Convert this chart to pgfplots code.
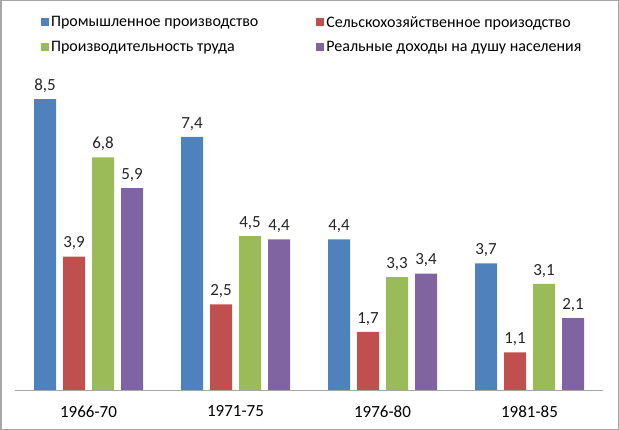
\documentclass[border=0pt]{standalone}
\usepackage{pgfplots}
\pgfplotsset{compat=1.18}
\usepackage{fontspec}
\setmainfont{Carlito}
\definecolor{serA}{HTML}{4F81BD}
\definecolor{serB}{HTML}{C0504D}
\definecolor{serC}{HTML}{9BBB59}
\definecolor{serD}{HTML}{8064A2}
\definecolor{frame}{HTML}{A6A6A6}

\begin{document}
\begin{tikzpicture}
\useasboundingbox (0,0) rectangle (619bp,430bp);
\begin{axis}[
  at={(15bp,40bp)}, anchor=south west,
  scale only axis, width=588bp, height=308bp,
  xmin=-0.5, xmax=3.5, ymin=0, ymax=9,
  ybar=7bp, bar width=22bp,
  axis x line*=bottom, axis y line=none,
  x axis line style={draw=frame,-},
  xtick={0,1,2,3},
  xticklabels={1966-70,1971-75,1976-80,1981-85},
  xtick style={draw=none},
  xticklabel style={yshift=-8bp},
  font=\fontsize{17bp}{20bp}\selectfont,
  clip=false,
  /pgf/number format/.cd, use comma, fixed, fixed zerofill, precision=1, assume math mode=true, /pgfplots/.cd,
  nodes near coords,
  nodes near coords style={anchor=south, yshift=3bp, text=black!85},
  legend columns=2,
  legend cell align=left,
  legend image code/.code={\fill[#1] (0bp,-4bp) rectangle (8bp,4bp);},
  legend style={at={(0.039,1.227)}, anchor=north west, draw=none, fill=none,
    font=\fontsize{16bp}{19bp}\selectfont,
    /tikz/every even column/.append style={column sep=56bp},
    row sep=9bp},
]
\addplot[fill=serA, draw=none] coordinates {(0,8.5) (1,7.4) (2,4.4) (3,3.7)};
\addplot[fill=serB, draw=none] coordinates {(0,3.9) (1,2.5) (2,1.7) (3,1.1)};
\addplot[fill=serC, draw=none] coordinates {(0,6.8) (1,4.5) (2,3.3) (3,3.1)};
\addplot[fill=serD, draw=none] coordinates {(0,5.9) (1,4.4) (2,3.4) (3,2.1)};
\legend{Промышленное производство, Сельскохозяйственное произодство, Производительность труда, Реальные доходы на душу населения}
\end{axis}
\draw[frame, line width=1.5bp] (0.75bp,0.75bp) rectangle (618.25bp,429.25bp);
\end{tikzpicture}
\end{document}
